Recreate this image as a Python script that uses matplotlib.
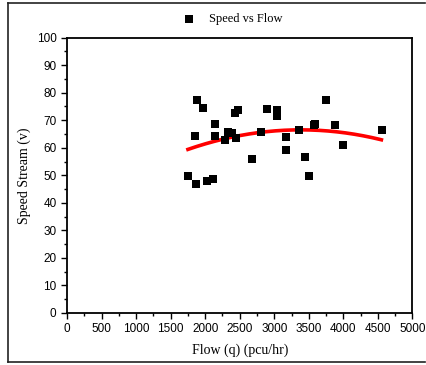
import numpy as np
import matplotlib
matplotlib.use('Agg')
import matplotlib.pyplot as plt
from matplotlib.lines import Line2D

# flow (pcu/hr) and speed stream readings
flow = [1750, 1850, 1879, 1864, 1965, 2023, 2110, 2139, 2139, 2293, 2327,
        2384, 2428, 2442, 2471, 2673, 2803, 2890, 3035, 3035, 3165, 3165,
        3353, 3439, 3497, 3569, 3584, 3743, 3873, 3988, 4552]
speed = [49.6, 64.1, 77.5, 46.7, 74.6, 47.8, 48.6, 68.5, 64.1, 62.8, 65.6,
         65.2, 72.5, 63.4, 73.6, 55.8, 65.6, 73.9, 71.7, 73.6, 63.8, 59.1,
         66.3, 56.5, 49.6, 68.1, 68.5, 77.2, 68.1, 60.9, 66.3]

# quadratic trend
fit_coef = [-2.656e-6, 0.01798, 36.07]
fit_range = [1750, 4550]

serif = ['Liberation Serif', 'DejaVu Serif']
sans = ['Liberation Sans', 'DejaVu Sans']

fig = plt.figure(figsize=(4.27, 3.65), dpi=100)
ax = fig.add_axes([0.157, 0.1425, 0.809, 0.7545])

ax.scatter(flow, speed, marker='s', s=28, color='black', zorder=3,
           label='Speed vs Flow', linewidths=0)
xf = np.linspace(fit_range[0], fit_range[1], 200)
ax.plot(xf, np.polyval(fit_coef, xf), color='red', lw=2.6, zorder=2)

ax.set_xlim(0, 5000)
ax.set_ylim(0, 100)
ax.set_xticks(np.arange(0, 5001, 500))
ax.set_xticks(np.arange(250, 5000, 500), minor=True)
ax.set_yticks(np.arange(0, 101, 10))
ax.set_yticks(np.arange(5, 100, 10), minor=True)
ax.tick_params(which='major', direction='out', length=4, width=1, labelsize=8.5)
ax.tick_params(which='minor', direction='out', length=2, width=1)
for lab in ax.get_xticklabels() + ax.get_yticklabels():
    lab.set_family(sans)
for s in ax.spines.values():
    s.set_linewidth(1.3)

ax.set_xlabel('Flow (q) (pcu/hr)', family=serif, fontsize=10, labelpad=6)
ax.set_ylabel('Speed Stream (v)', family=serif, fontsize=10, labelpad=4)

ax.legend(loc='lower center', bbox_to_anchor=(0.47, 1.005), frameon=False,
          prop={'family': serif, 'size': 9}, handletextpad=0.6,
          markerscale=1.0)

# outer frame (left, top, bottom only)
fx0, fx1, fy0, fy1 = 8 / 427, 0.995, 1 - 362 / 365, 1 - 2.5 / 365
for xs, ys in [([fx0, fx0], [fy0, fy1]), ([fx0, fx1], [fy1, fy1]),
               ([fx0, fx1], [fy0, fy0])]:
    fig.add_artist(Line2D(xs, ys, transform=fig.transFigure,
                          color='#222222', lw=1.2))

fig.savefig('out.png', dpi=100)
